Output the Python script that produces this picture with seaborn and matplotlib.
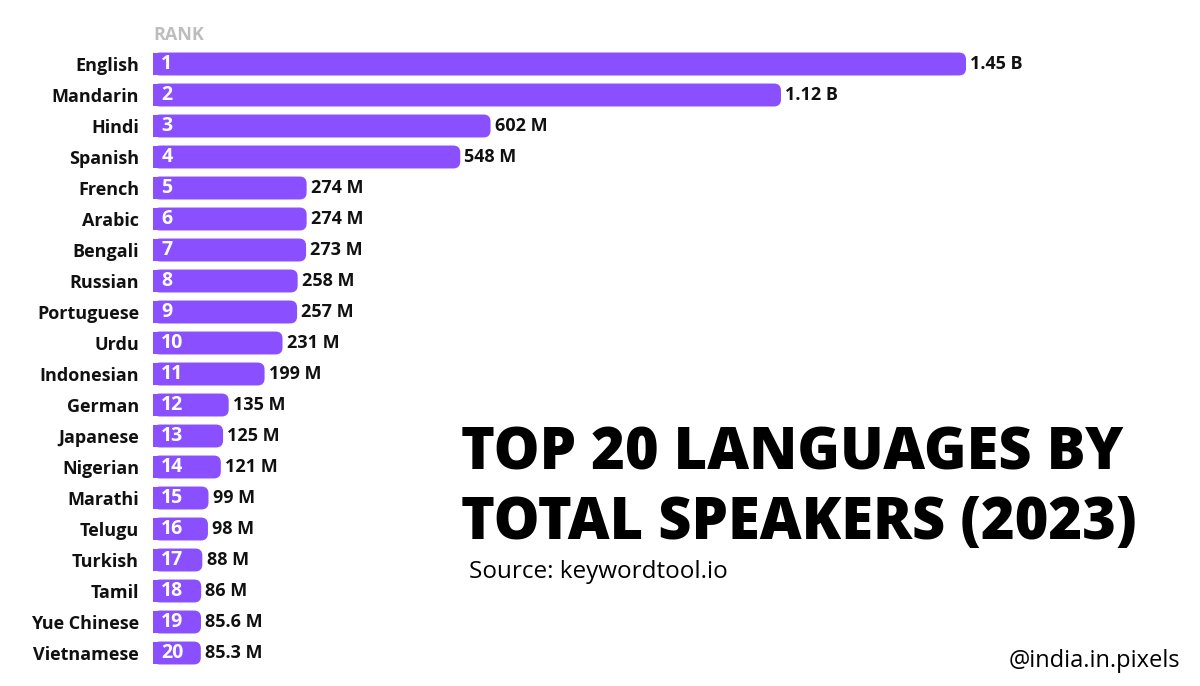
import matplotlib
matplotlib.use("Agg")
import matplotlib.pyplot as plt
import seaborn as sns
import pandas as pd
from matplotlib.patches import FancyBboxPatch

languages = ["English", "Mandarin", "Hindi", "Spanish", "French", "Arabic", "Bengali",
             "Russian", "Portuguese", "Urdu", "Indonesian", "German", "Japanese",
             "Nigerian", "Marathi", "Telugu", "Turkish", "Tamil", "Yue Chinese", "Vietnamese"]
speakers_m = [1450, 1120, 602, 548, 274, 274, 273, 258, 257, 231, 199, 135, 125,
              121, 99, 98, 88, 86, 85.6, 85.3]
value_labels = ["1.45 B", "1.12 B", "602 M", "548 M", "274 M", "274 M", "273 M", "258 M",
                "257 M", "231 M", "199 M", "135 M", "125 M", "121 M", "99 M", "98 M",
                "88 M", "86 M", "85.6 M", "85.3 M"]
ranks = [str(i) for i in range(1, 21)]

df = pd.DataFrame({"language": languages, "speakers": speakers_m, "rank": ranks})

sns.set_theme(style="white")
plt.rcParams["font.family"] = ["Open Sans", "DejaVu Sans"]

W, H = 1200, 686
fig = plt.figure(figsize=(12, 6.86), dpi=100)
ax_left, ax_right = 153 / W, 1190 / W
ax_top, ax_bot = 1 - 48.5 / H, 1 - 668.5 / H
ax = fig.add_axes([ax_left, ax_bot, ax_right - ax_left, ax_top - ax_bot])

purple = "#8a4fff"
sns.barplot(data=df, x="speakers", y="language", color=purple, saturation=1,
            width=0.74, ax=ax, orient="h", edgecolor="none", linewidth=0)

px_per_m = 0.5607
xmax = (1190 - 153) / px_per_m
ax.set_xlim(0, xmax)
ax.set_ylim(19.5, -0.5)

container = ax.containers[0]
ax.bar_label(container, labels=value_labels, padding=3, fontsize=13,
             fontweight="bold", color="#111111")

# rounded right ends
x_per_px = 1 / px_per_m
y_per_px = 1 / 31.0
r_px = 7
r = r_px * x_per_px
for p in container.patches:
    x0, y0 = p.get_x(), p.get_y()
    w, h = p.get_width(), p.get_height()
    rb = FancyBboxPatch((x0, y0), w, h,
                        boxstyle=f"round,pad=0,rounding_size={r}",
                        mutation_aspect=y_per_px / x_per_px,
                        facecolor=purple, edgecolor="none", linewidth=0,
                        zorder=p.get_zorder())
    ax.add_patch(rb)
    p.set_width(max(w - r, 0))
    p.set_edgecolor("none")
    p.set_linewidth(0)

for i, rk in enumerate(df["rank"]):
    ax.annotate(rk, xy=(0, i), xytext=(6, 0), textcoords="offset points",
                ha="left", va="center", color="white", fontsize=14,
                fontweight="bold", zorder=5)

ax.set_xlabel("")
ax.set_ylabel("")
ax.set_xticks([])
ax.tick_params(axis="y", length=0, pad=10)
for lab in ax.get_yticklabels():
    lab.set_fontsize(13)
    lab.set_fontweight("bold")
    lab.set_color("#111111")
for s in ax.spines.values():
    s.set_visible(False)

fig.text(153 / W, 1 - 35 / H, "RANK", ha="left", va="center", fontsize=13,
         fontweight="bold", color="#bdbdbd")

fig.text(461 / W, 1 - 447 / H, "TOP 20 LANGUAGES BY", ha="left", va="center_baseline",
         fontsize=41.5, fontweight="heavy", color="black")
fig.text(461 / W, 1 - 517 / H, "TOTAL SPEAKERS (2023)", ha="left", va="center_baseline",
         fontsize=41.5, fontweight="heavy", color="black")
fig.text(469 / W, 1 - 572 / H, "Source: keywordtool.io", ha="left", va="center",
         fontsize=17.5, color="black")
fig.text(1180 / W, 1 - 661 / H, "@india.in.pixels", ha="right", va="center",
         fontsize=17, color="black")

fig.savefig("out.png", dpi=100, facecolor="white")
